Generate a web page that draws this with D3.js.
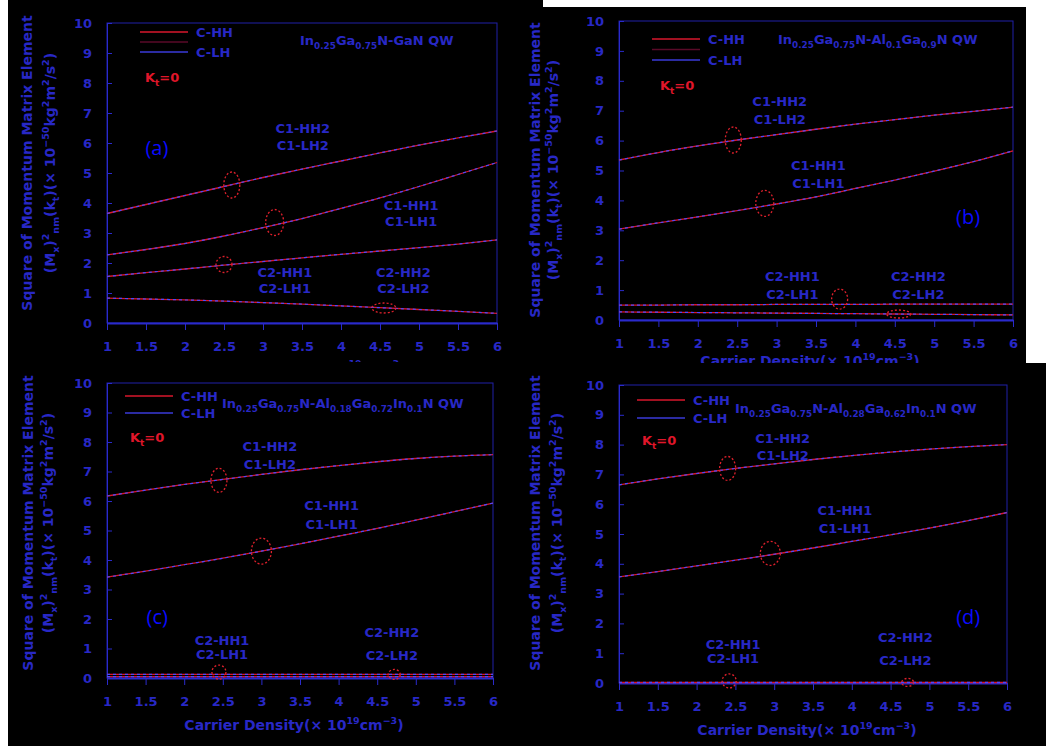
<!DOCTYPE html>
<html>
<head>
<meta charset="utf-8">
<script src="https://cdn.jsdelivr.net/npm/d3@7"></script>
<style>
body { margin: 0; background: #fff; }
svg { display: block; }
</style>
</head>
<body>
<div id="main"></div>
<script>
// carrier density (x 10^19 cm^-3) and axis ticks
var xs = [1, 1.5, 2, 2.5, 3, 3.5, 4, 4.5, 5, 5.5, 6];
var xTicks = [1, 1.5, 2, 2.5, 3, 3.5, 4, 4.5, 5, 5.5, 6];
var yTicks = [0, 1, 2, 3, 4, 5, 6, 7, 8, 9, 10];

// (a) InGaN-GaN
var aC1HH2 = [3.65, 3.95, 4.25, 4.55, 4.85, 5.13, 5.4, 5.67, 5.93, 6.17, 6.4];
var aC1HH1 = [2.27, 2.45, 2.65, 2.9, 3.18, 3.48, 3.82, 4.17, 4.55, 4.95, 5.35];
var aC2HH1 = [1.55, 1.68, 1.8, 1.93, 2.05, 2.17, 2.29, 2.4, 2.51, 2.63, 2.77];
var aC2HH2 = [0.83, 0.8, 0.77, 0.73, 0.68, 0.63, 0.57, 0.51, 0.45, 0.39, 0.32];
// (b) InGaN-AlGaN
var bC1HH2 = [5.35, 5.6, 5.82, 6.02, 6.2, 6.38, 6.55, 6.7, 6.85, 6.98, 7.12];
var bC1HH1 = [3.04, 3.25, 3.45, 3.66, 3.88, 4.12, 4.4, 4.68, 4.98, 5.3, 5.66];
var bC2HH1 = [0.5, 0.5, 0.51, 0.51, 0.52, 0.52, 0.52, 0.53, 0.53, 0.53, 0.53];
var bC2HH2 = [0.27, 0.26, 0.25, 0.24, 0.23, 0.22, 0.21, 0.2, 0.19, 0.18, 0.17];
// (c) InGaN-AlGaInN
var cC1HH2 = [6.17, 6.37, 6.56, 6.73, 6.9, 7.06, 7.2, 7.33, 7.44, 7.52, 7.57];
var cC1HH1 = [3.42, 3.62, 3.84, 4.06, 4.3, 4.55, 4.81, 5.07, 5.35, 5.64, 5.93];
var cC2HH1 = [0.12, 0.12, 0.12, 0.12, 0.12, 0.12, 0.12, 0.12, 0.12, 0.12, 0.12];
var cC2HH2 = [0.05, 0.05, 0.05, 0.05, 0.05, 0.05, 0.05, 0.05, 0.05, 0.05, 0.05];
// (d) InGaN-AlGaInN
var dC1HH2 = [6.65, 6.85, 7.03, 7.2, 7.35, 7.5, 7.63, 7.75, 7.85, 7.93, 8.0];
var dC1HH1 = [3.56, 3.74, 3.93, 4.12, 4.32, 4.53, 4.75, 4.97, 5.2, 5.45, 5.72];
var dC2HH1 = [0.02, 0.02, 0.02, 0.02, 0.02, 0.02, 0.02, 0.02, 0.02, 0.02, 0.02];
var dC2HH2 = [0.01, 0.01, 0.01, 0.01, 0.01, 0.01, 0.01, 0.01, 0.01, 0.01, 0.01];

// dashed rings (data coords), one per band pair
var aRings = [[2.6, 4.6], [3.15, 3.35], [2.5, 1.95], [4.55, 0.5]];
var bRings = [[2.45, 6.02], [2.85, 3.9], [3.8, 0.7], [4.55, 0.2]];
var cRings = [[2.45, 6.7], [3.0, 4.3], [2.45, 0.2], [4.72, 0.12]];
var dRings = [[2.4, 7.2], [2.95, 4.35], [2.42, 0.07], [4.72, 0.02]];

// band labels: [x, y of upper line, y of lower line]
var bandNames = [['C1-HH2', 'C1-LH2'], ['C1-HH1', 'C1-LH1'], ['C2-HH1', 'C2-LH1'], ['C2-HH2', 'C2-LH2']];
var aLabels = [[3.51, 6.5, 5.93], [4.9, 3.93, 3.37], [3.28, 1.7, 1.15], [4.8, 1.7, 1.15]];
var bLabels = [[3.04, 7.3, 6.72], [3.53, 5.18, 4.58], [3.2, 1.44, 0.84], [4.8, 1.44, 0.84]];
var cLabels = [[3.11, 7.86, 7.25], [3.91, 5.86, 5.19], [2.49, 1.26, 0.8], [4.69, 1.53, 0.78]];
var dLabels = [[3.11, 8.19, 7.65], [3.91, 5.8, 5.2], [2.47, 1.3, 0.84], [4.69, 1.54, 0.77]];

var tags = ['(a)', '(b)', '(c)', '(d)'];
var tagPos = [[1.64, 5.85], [5.43, 3.45], [1.65, 2.07], [5.5, 2.2]];

var titles = [
  [['In', ''], ['0.25', 'sub'], ['Ga', ''], ['0.75', 'sub'], ['N-GaN QW', '']],
  [['In', ''], ['0.25', 'sub'], ['Ga', ''], ['0.75', 'sub'], ['N-Al', ''], ['0.1', 'sub'], ['Ga', ''], ['0.9', 'sub'], ['N QW', '']],
  [['In', ''], ['0.25', 'sub'], ['Ga', ''], ['0.75', 'sub'], ['N-Al', ''], ['0.18', 'sub'], ['Ga', ''], ['0.72', 'sub'], ['In', ''], ['0.1', 'sub'], ['N QW', '']],
  [['In', ''], ['0.25', 'sub'], ['Ga', ''], ['0.75', 'sub'], ['N-Al', ''], ['0.28', 'sub'], ['Ga', ''], ['0.62', 'sub'], ['In', ''], ['0.1', 'sub'], ['N QW', '']]
];
var yLabel1 = 'Square of Momentum Matrix Element';
var yLabel2 = [['(M', ''], ['x', 'sub'], [')', ''], ['2', 'sup'], ['nm', 'sub'], ['(k', ''], ['t', 'sub'], [')(\u00d7 10', ''], ['\u221250', 'sup'], ['kg', ''], ['2', 'sup'], ['m', ''], ['2', 'sup'], ['/s', ''], ['2', 'sup'], [')', '']];
var xLabel = [['Carrier Density(\u00d7 10', ''], ['19', 'sup'], ['cm', ''], ['\u22123', 'sup'], [')', '']];

var blue = '#2828c6', red = '#d8172c', font = 'DejaVu Sans, sans-serif';

// panel placement on the page
var panels = [
  {clip: [8, 0, 535, 362], x0: 107, x1: 497, yT: 23, yB: 323, yl1: 27, yl2: 55, ylC: 163, legX: 140, legY: 32, legGap: 20, dim: true, tX: 300, tY: 45, ktX: 145, ktY: 82, xtOff: 50,
   series: [aC1HH2, aC1HH1, aC2HH1, aC2HH2], rings: aRings, rr: [[8, 13], [9, 13], [8, 8], [12, 5]], labels: aLabels},
  {clip: [520, 7, 506, 356], x0: 619, x1: 1013, yT: 21, yB: 320, yl1: 535, yl2: 558, ylC: 170, legX: 652, legY: 39, legGap: 21, dim: true, tX: 778, tY: 44, ktX: 660, ktY: 90, xtOff: 46,
   series: [bC1HH2, bC1HH1, bC2HH1, bC2HH2], rings: bRings, rr: [[8, 13], [9, 13], [8, 10], [12, 4]], labels: bLabels},
  {clip: [8, 362, 522, 384], x0: 107, x1: 493, yT: 383, yB: 678, yl1: 28, yl2: 53, ylC: 523, legX: 125, legY: 396, legGap: 17, dim: false, tX: 222, tY: 408, ktX: 130, ktY: 442, xtOff: 52,
   series: [cC1HH2, cC1HH1, cC2HH1, cC2HH2], rings: cRings, rr: [[8, 12], [10, 13], [7, 7], [6, 5]], labels: cLabels},
  {clip: [520, 363, 526, 383], x0: 619, x1: 1007, yT: 385, yB: 683, yl1: 535, yl2: 562, ylC: 523, legX: 637, legY: 400, legGap: 18, dim: false, tX: 735, tY: 413, ktX: 642, ktY: 445, xtOff: 52,
   series: [dC1HH2, dC1HH1, dC2HH1, dC2HH2], rings: dRings, rr: [[8, 12], [10, 12], [7, 7], [6, 4]], labels: dLabels}
];

function rich(t, segs, size) {
  var off = 0;
  segs.forEach(function(s) {
    var target = s[1] === 'sub' ? size * 0.3 : s[1] === 'sup' ? -size * 0.45 : 0;
    t.append('tspan').attr('dy', target - off)
      .attr('font-size', s[1] ? size * 0.68 : size).text(s[0]);
    off = target;
  });
}

var svg = d3.select('#main').append('svg').attr('width', 1046).attr('height', 746);
var defs = svg.append('defs');

panels.forEach(function(p, i) {
  defs.append('clipPath').attr('id', 'clip' + i).append('rect')
    .attr('x', p.clip[0]).attr('y', p.clip[1]).attr('width', p.clip[2]).attr('height', p.clip[3]);
  var g = svg.append('g').attr('clip-path', 'url(#clip' + i + ')')
    .attr('font-family', font).attr('font-weight', 'bold');
  g.append('rect').attr('x', p.clip[0]).attr('y', p.clip[1])
    .attr('width', p.clip[2]).attr('height', p.clip[3]).attr('fill', '#000');

  var x = d3.scaleLinear().domain([1, 6]).range([p.x0, p.x1]);
  var y = d3.scaleLinear().domain([0, 10]).range([p.yB, p.yT]);

  // frame
  g.append('rect').attr('x', p.x0).attr('y', p.yT).attr('width', p.x1 - p.x0).attr('height', p.yB - p.yT)
    .attr('fill', 'none').attr('stroke', '#2020a8').attr('stroke-width', 1);

  var xa = g.append('g').attr('transform', 'translate(0,' + p.yB + ')')
    .call(d3.axisBottom(x).tickValues(xTicks).tickSizeInner(7).tickSizeOuter(0).tickPadding(12).tickFormat(d3.format('')));
  var ya = g.append('g').attr('transform', 'translate(' + p.x0 + ',0)')
    .call(d3.axisLeft(y).tickValues(yTicks).tickSizeInner(-5).tickSizeOuter(0).tickPadding(15));
  [xa, ya].forEach(function(a) {
    a.select('.domain').attr('stroke', '#2a2acc').attr('stroke-width', 2);
    a.selectAll('.tick line').attr('stroke', '#2a2acc').attr('stroke-width', 1);
    a.selectAll('.tick text').attr('fill', blue).attr('font-size', 13)
      .attr('font-family', font).attr('font-weight', 'bold');
  });
  ya.select('.domain').attr('stroke-width', 1);

  // curves: C-HH red solid with C-LH blue dashed on top
  var line = d3.line().x(function(d, j) { return x(xs[j]); }).y(function(d) { return y(d); })
    .curve(d3.curveMonotoneX);
  p.series.forEach(function(s) {
    g.append('path').attr('d', line(s)).attr('fill', 'none').attr('stroke', red).attr('stroke-width', 1.3);
    g.append('path').attr('d', line(s)).attr('fill', 'none').attr('stroke', '#4a4aff')
      .attr('stroke-width', 1.2).attr('stroke-dasharray', '3,3');
  });

  // rings
  p.rings.forEach(function(r, j) {
    g.append('ellipse').attr('cx', x(r[0])).attr('cy', y(r[1]))
      .attr('rx', p.rr[j][0]).attr('ry', p.rr[j][1])
      .attr('fill', 'none').attr('stroke', '#e0202c').attr('stroke-width', 1.3).attr('stroke-dasharray', '2,2');
  });

  // band labels
  p.labels.forEach(function(l, j) {
    [1, 2].forEach(function(k) {
      g.append('text').attr('x', x(l[0])).attr('y', y(l[k])).attr('dy', '0.35em')
        .attr('text-anchor', 'middle').attr('font-size', 13).attr('fill', blue)
        .text(bandNames[j][k - 1]);
    });
  });

  // legend
  g.append('line').attr('x1', p.legX).attr('x2', p.legX + 48).attr('y1', p.legY).attr('y2', p.legY)
    .attr('stroke', red).attr('stroke-width', 1.5);
  if (p.dim) {
    g.append('line').attr('x1', p.legX).attr('x2', p.legX + 48).attr('y1', p.legY + p.legGap / 2).attr('y2', p.legY + p.legGap / 2)
      .attr('stroke', '#5a0a28').attr('stroke-width', 1.5);
  }
  g.append('line').attr('x1', p.legX).attr('x2', p.legX + 48).attr('y1', p.legY + p.legGap).attr('y2', p.legY + p.legGap)
    .attr('stroke', '#3a3ad8').attr('stroke-width', 1.5);
  g.append('text').attr('x', p.legX + 56).attr('y', p.legY).attr('dy', '0.35em')
    .attr('font-size', 13).attr('fill', blue).text('C-HH');
  g.append('text').attr('x', p.legX + 56).attr('y', p.legY + p.legGap).attr('dy', '0.35em')
    .attr('font-size', 13).attr('fill', blue).text('C-LH');

  // structure title
  rich(g.append('text').attr('x', p.tX).attr('y', p.tY).attr('fill', blue), titles[i], 13);

  // Kt = 0
  rich(g.append('text').attr('x', p.ktX).attr('y', p.ktY).attr('fill', '#e0162a'),
    [['K', ''], ['t', 'sub'], ['=0', '']], 13);

  // panel tag
  g.append('text').attr('x', x(tagPos[i][0])).attr('y', y(tagPos[i][1])).attr('dy', '0.35em')
    .attr('text-anchor', 'middle').attr('font-family', 'Open Sans, sans-serif').attr('font-weight', 'normal')
    .attr('font-size', 20).attr('fill', '#0a0aff').text(tags[i]);

  // axis titles
  g.append('text').attr('transform', 'translate(' + p.yl1 + ',' + p.ylC + ') rotate(-90)')
    .attr('text-anchor', 'middle').attr('dy', '0.35em').attr('font-size', 14).attr('fill', blue).text(yLabel1);
  rich(g.append('text').attr('transform', 'translate(' + p.yl2 + ',' + p.ylC + ') rotate(-90)')
    .attr('text-anchor', 'middle').attr('dy', '0.35em').attr('fill', blue), yLabel2, 14);
  rich(g.append('text').attr('x', (p.x0 + p.x1) / 2 - 6).attr('y', p.yB + p.xtOff)
    .attr('text-anchor', 'middle').attr('fill', blue), xLabel, 14);
});
</script>
</body>
</html>
